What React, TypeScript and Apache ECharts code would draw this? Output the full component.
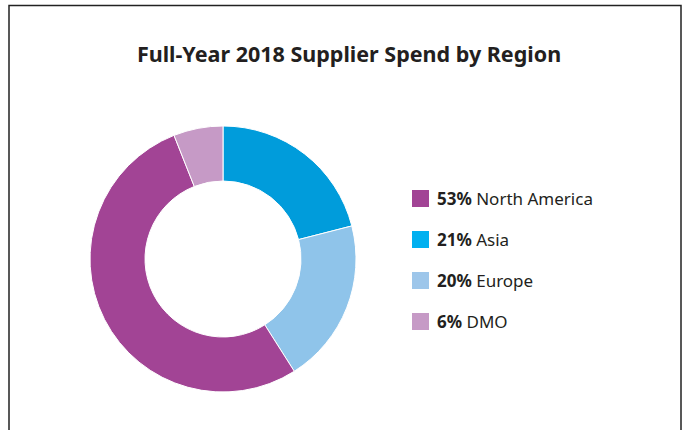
import React, { useEffect, useRef } from "react";
import * as echarts from "echarts";

const title = "Full-Year 2018 Supplier Spend by Region";
const categories = ["Asia", "Europe", "North America", "DMO"];
const values = [21, 20, 53, 6];
const sliceColors = ["#009CDB", "#8FC4EA", "#A24495", "#C69AC6"];
const legendOrder = ["North America", "Asia", "Europe", "DMO"];
const legendColors = ["#A24495", "#00B0F0", "#9DC6EA", "#C69AC6"];

export default function App() {
  const ref = useRef<HTMLDivElement>(null);
  useEffect(() => {
    if (!ref.current) return;
    const chart = echarts.init(ref.current, null, { renderer: "svg" });
    const font = "Noto Sans";
    chart.setOption({
      animation: false,
      backgroundColor: "#ffffff",
      title: {
        text: title,
        left: 344,
        textAlign: "center",
        top: 37,
        textStyle: { fontFamily: font, fontSize: 21.5, fontWeight: "bold", color: "#231F20" },
      },
      legend: {
        orient: "vertical",
        left: 405,
        top: 183,
        itemWidth: 19,
        itemHeight: 19,
        itemGap: 20,
        icon: "rect",
        selectedMode: false,
        data: legendOrder.map((n, i) => ({ name: n, itemStyle: { color: legendColors[i] } })),
        formatter: (name: string) => {
          const v = values[categories.indexOf(name)];
          return `{b|${v}%} {n|${name}}`;
        },
        textStyle: {
          fontFamily: font,
          fontSize: 17,
          color: "#231F20",
          padding: [0, 0, 0, 2],
          rich: {
            b: { fontFamily: font, fontSize: 17, fontWeight: "bold", color: "#231F20" },
            n: { fontFamily: font, fontSize: 17, color: "#231F20" },
          },
        },
      },
      graphic: [
        {
          type: "polyline",
          shape: { points: [[9, 440], [9, 5.5], [681, 5.5], [681, 440]] },
          style: { stroke: "#222", lineWidth: 1.5, fill: null },
          silent: true,
        },
      ],
      series: [
        {
          type: "pie",
          center: [223, 259],
          radius: [78, 133],
          startAngle: 90,
          clockwise: true,
          label: { show: false },
          labelLine: { show: false },
          emphasis: { disabled: true },
          itemStyle: { borderColor: "#ffffff", borderWidth: 1 },
          data: categories.map((c, i) => ({
            name: c,
            value: values[i],
            itemStyle: { color: sliceColors[i] },
          })),
        },
      ],
    });
    return () => chart.dispose();
  }, []);
  return (
    <div
      ref={ref}
      style={{ position: "fixed", left: 0, top: 0, width: 685, height: 430 }}
    />
  );
}
